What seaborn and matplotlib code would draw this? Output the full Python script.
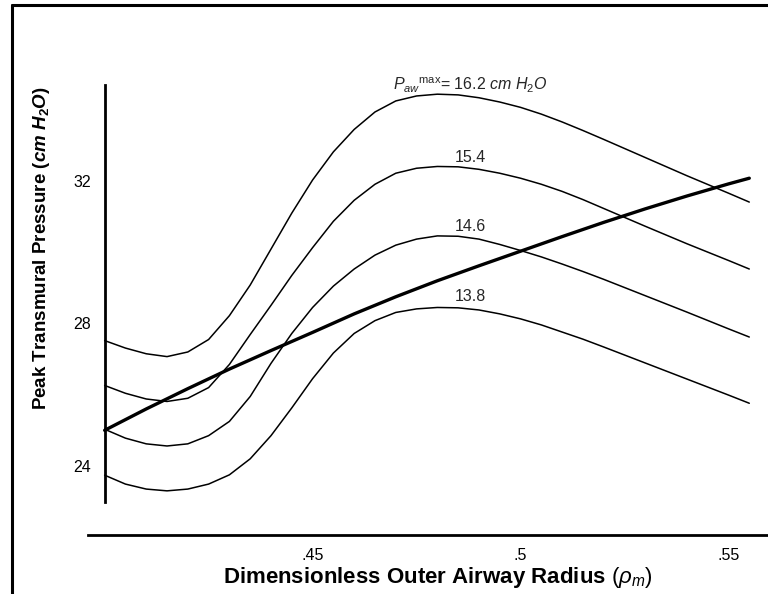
import numpy as np
import pandas as pd
import seaborn as sns
import matplotlib
matplotlib.use("Agg")
import matplotlib.pyplot as plt
from matplotlib.lines import Line2D

# Dimensionless outer airway radius (rho_m)
rho = [0.400, 0.405, 0.410, 0.415, 0.420, 0.425, 0.430, 0.435, 0.440, 0.445,
       0.450, 0.455, 0.460, 0.465, 0.470, 0.475, 0.480, 0.485, 0.490, 0.495,
       0.500, 0.505, 0.510, 0.515, 0.520, 0.530, 0.540, 0.550, 0.555]

# Peak transmural pressure (cm H2O) for each maximal airway pressure
ptm_162 = [27.52, 27.31, 27.15, 27.07, 27.20, 27.55, 28.22, 29.08, 30.09, 31.10,
           32.03, 32.82, 33.45, 33.94, 34.25, 34.39, 34.44, 34.42, 34.34, 34.22,
           34.07, 33.88, 33.66, 33.42, 33.17, 32.66, 32.15, 31.66, 31.41]
ptm_154 = [26.26, 26.04, 25.88, 25.81, 25.90, 26.20, 26.85, 27.69, 28.51, 29.35,
           30.13, 30.87, 31.46, 31.91, 32.22, 32.36, 32.41, 32.40, 32.33, 32.22,
           32.08, 31.91, 31.71, 31.48, 31.23, 30.73, 30.24, 29.77, 29.53]
ptm_146 = [25.03, 24.78, 24.62, 24.56, 24.62, 24.85, 25.25, 25.95, 26.88, 27.72,
           28.45, 29.05, 29.53, 29.92, 30.20, 30.37, 30.46, 30.45, 30.37, 30.22,
           30.05, 29.87, 29.67, 29.46, 29.24, 28.78, 28.32, 27.85, 27.62]
ptm_138 = [23.74, 23.49, 23.35, 23.30, 23.35, 23.49, 23.75, 24.20, 24.85, 25.63,
           26.45, 27.17, 27.72, 28.08, 28.31, 28.41, 28.45, 28.44, 28.38, 28.27,
           28.13, 27.96, 27.76, 27.56, 27.34, 26.89, 26.44, 25.99, 25.76]

# Transmural pressure limit curve (heavy line)
limit_rho = [0.400, 0.410, 0.420, 0.430, 0.440, 0.450, 0.460, 0.470, 0.480,
             0.490, 0.500, 0.510, 0.520, 0.530, 0.540, 0.550, 0.555]
limit_ptm = [25.00, 25.60, 26.17, 26.72, 27.24, 27.75, 28.27, 28.75, 29.20,
             29.62, 30.03, 30.44, 30.84, 31.22, 31.58, 31.92, 32.08]

paw_labels = ["16.2", "15.4", "14.6", "13.8"]
y_ticks = [24, 28, 32]
x_ticks = [0.45, 0.50, 0.55]
x_ticklabels = [".45", ".5", ".55"]

sns.set_theme(style="white")
plt.rcParams["font.family"] = ["Liberation Sans", "DejaVu Sans"]
plt.rcParams["mathtext.fontset"] = "custom"
plt.rcParams["mathtext.rm"] = "Liberation Sans"
plt.rcParams["mathtext.it"] = "Liberation Sans:italic"
plt.rcParams["mathtext.bf"] = "Liberation Sans:bold"
plt.rcParams["mathtext.bfit"] = "Liberation Sans:italic:bold"

curves = pd.concat([
    pd.DataFrame({"rho": rho, "ptm": vals, "paw": lab})
    for vals, lab in zip([ptm_162, ptm_154, ptm_146, ptm_138], paw_labels)
])
limit = pd.DataFrame({"rho": limit_rho, "ptm": limit_ptm})

W, H = 768, 594
fig = plt.figure(figsize=(W / 100, H / 100), dpi=100)
ax = fig.add_axes([88 / W, 1 - 535 / H, 680 / W, 475 / H])

sns.lineplot(data=curves, x="rho", y="ptm", units="paw", estimator=None,
             sort=False, color="black", linewidth=1.1, ax=ax)
sns.lineplot(data=limit, x="rho", y="ptm", estimator=None, sort=False,
             color="black", linewidth=2.4, ax=ax)

ax.set_xlim(0.396, 0.5595)
ax.set_ylim(22.06, 35.4)

for side in ["top", "right"]:
    ax.spines[side].set_visible(False)
ax.spines["left"].set_position(("data", 0.40))
ax.spines["left"].set_bounds(23.0, 34.7)
ax.spines["left"].set_linewidth(2.0)
ax.spines["bottom"].set_linewidth(2.0)
for s in ["left", "bottom"]:
    ax.spines[s].set_color("black")

ax.set_yticks(y_ticks)
ax.set_yticklabels([str(t) for t in y_ticks])
ax.set_xticks(x_ticks)
ax.set_xticklabels(x_ticklabels)
ax.tick_params(axis="y", direction="in", length=3, width=1, pad=10,
               labelsize=11.5, colors="black")
ax.tick_params(axis="x", length=0, pad=9, labelsize=11.5, colors="black")

ax.set_ylabel(r"Peak Transmural Pressure ($\mathbfit{cm\ H}_{\mathbf{2}}\mathbfit{O}$)",
              fontsize=13.5, fontweight="bold", color="black")
ax.yaxis.set_label_coords((42 - 88) / 680, (535 - 248) / 475)
ax.yaxis.label.set_va("center")
ax.set_xlabel(r"Dimensionless Outer Airway Radius $(\rho_m)$",
              fontsize=16, fontweight="bold", color="black")
ax.xaxis.set_label_coords((438 - 88) / 680, (535 - 577) / 475)
ax.xaxis.label.set_va("center")

# Curve labels
ax.text(0.488, 34.70, r"$P_{aw}$$^{\mathrm{max}}$= 16.2 $cm\ H_2O$",
        ha="center", va="center", fontsize=11.5)
for lab, yv in zip(paw_labels[1:], [32.67, 30.71, 28.77]):
    ax.text(0.488, yv, lab, ha="center", va="center", fontsize=11.5)

# Frame lines along the top and left edges
fig.add_artist(Line2D([12 / W, 1.0], [1 - 4.5 / H, 1 - 4.5 / H],
                      transform=fig.transFigure, color="black", linewidth=2.2))
fig.add_artist(Line2D([12 / W, 12 / W], [0.0, 1 - 4.5 / H],
                      transform=fig.transFigure, color="black", linewidth=2.2))

fig.savefig("out.png", dpi=100)
